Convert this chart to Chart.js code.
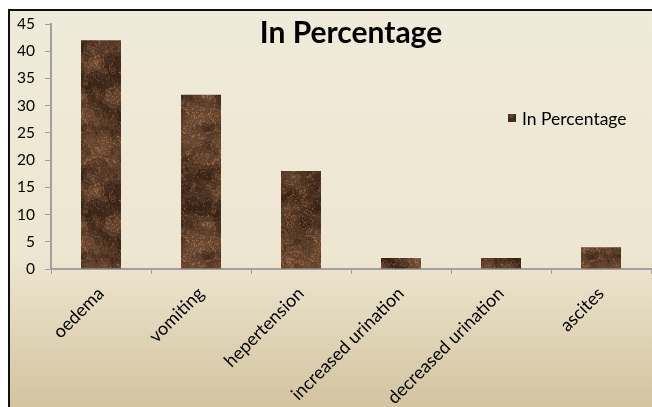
<!DOCTYPE html>
<html>
<head>
<meta charset="utf-8">
<script src="https://cdn.jsdelivr.net/npm/chart.js@4/dist/chart.umd.min.js"></script>
<style>
  html, body { margin: 0; padding: 0; background: #fff; }
  #wrap { width: 652px; height: 407px; position: relative; }
</style>
</head>
<body>
<div id="wrap"><canvas id="c" width="652" height="407"></canvas></div>
<script>
// Symptom frequencies
const categories = ['oedema', 'vomiting', 'hepertension', 'increased urination', 'decreased urination', 'ascites'];
const percentages = [42, 32, 18, 2, 2, 4];
const seriesName = 'In Percentage';
const chartTitle = 'In Percentage';
const yMin = 0, yMax = 45, yStep = 5;

const FONT = 'Lato, "Open Sans", sans-serif';

// Dark brown marble texture used as the bar fill (deterministic value-noise clouds)
function marblePattern() {
  const s = 128;
  const cv = document.createElement('canvas');
  cv.width = cv.height = s;
  const g = cv.getContext('2d');
  const img = g.createImageData(s, s);
  const hash = (x, y) => { const h = Math.sin(x * 127.1 + y * 311.7) * 43758.5453; return h - Math.floor(h); };
  const smooth = t => t * t * (3 - 2 * t);
  function noise(x, y, period) {
    const xi = Math.floor(x), yi = Math.floor(y);
    const xf = smooth(x - xi), yf = smooth(y - yi);
    const w = v => ((v % period) + period) % period;
    const a = hash(w(xi), w(yi)), b = hash(w(xi + 1), w(yi));
    const c = hash(w(xi), w(yi + 1)), d = hash(w(xi + 1), w(yi + 1));
    return (a + (b - a) * xf) + ((c + (d - c) * xf) - (a + (b - a) * xf)) * yf;
  }
  function fbm(x, y) {
    let v = 0, amp = 0.5, f = 1 / 16;
    for (let o = 0; o < 5; o++) {
      const period = Math.round(s * f);
      v += amp * noise(x * f, y * f, period);
      amp *= 0.5; f *= 2;
    }
    return v;
  }
  for (let y = 0; y < s; y++) {
    for (let x = 0; x < s; x++) {
      const n = fbm(x, y);
      const m = fbm(x + 37, y + 91);
      const vein = Math.pow(1 - Math.abs(Math.sin((n * 6 + m * 3) * Math.PI)), 5);
      let t = (n - 0.25) * 0.95 + vein * 0.45 + (hash(x + 0.5, y + 0.5) - 0.5) * 0.22;
      t = Math.min(1, Math.max(0, t));
      const i = (y * s + x) * 4;
      img.data[i]     = 55 + t * 120;
      img.data[i + 1] = 34 + t * 90;
      img.data[i + 2] = 22 + t * 64;
      img.data[i + 3] = 255;
    }
  }
  g.putImageData(img, 0, 0);
  return g.createPattern(cv, 'repeat');
}
const barFill = marblePattern();

// Cream parchment background with a black frame on the top and left edges
const backdrop = {
  id: 'backdrop',
  beforeDraw(chart) {
    const { ctx, width, height } = chart;
    ctx.save();
    ctx.fillStyle = '#ffffff';
    ctx.fillRect(0, 0, width, height);
    const grad = ctx.createLinearGradient(0, 10, 0, height);
    grad.addColorStop(0, '#f0eada');
    grad.addColorStop(0.62, '#ede6d1');
    grad.addColorStop(1, '#d3c49f');
    ctx.fillStyle = grad;
    ctx.fillRect(9, 10, width - 9, height - 10);
    ctx.fillStyle = '#111';
    ctx.fillRect(8, 9, width - 8, 2);
    ctx.fillRect(8, 9, 2, height - 9);
    ctx.restore();
  }
};

// Title and legend drawn over the plot area
const overlay = {
  id: 'overlay',
  afterDraw(chart) {
    const { ctx, chartArea } = chart;
    ctx.save();
    ctx.fillStyle = '#000';
    ctx.font = 'bold 30px ' + FONT;
    ctx.textAlign = 'center';
    ctx.textBaseline = 'middle';
    ctx.fillText(chartTitle, (chartArea.left + chartArea.right) / 2, 33);

    const ds = chart.data.datasets[0];
    const lx = chartArea.right - 143, ly = 118;
    ctx.fillStyle = ds.backgroundColor;
    ctx.fillRect(lx, ly - 4, 8, 8);
    ctx.fillStyle = '#000';
    ctx.font = '17.5px ' + FONT;
    ctx.textAlign = 'left';
    ctx.fillText(ds.label, lx + 14, ly + 1);
    ctx.restore();
  }
};

new Chart(document.getElementById('c'), {
  type: 'bar',
  data: {
    labels: categories,
    datasets: [{
      label: seriesName,
      data: percentages,
      backgroundColor: barFill,
      borderWidth: 0,
      barPercentage: 0.4,
      categoryPercentage: 1.0
    }]
  },
  options: {
    responsive: false,
    animation: false,
    devicePixelRatio: 1,
    layout: { padding: { top: 24, right: 1, left: 0, bottom: 0 } },
    plugins: {
      legend: { display: false },
      title: { display: false },
      tooltip: { enabled: false }
    },
    scales: {
      x: {
        afterFit(scale) { scale.height = 407 - 269; },
        grid: {
          display: true, drawOnChartArea: false, drawTicks: true,
          tickLength: 5, color: '#a0a0a0', lineWidth: 1, offset: true
        },
        border: { display: true, color: '#a0a0a0', width: 2 },
        ticks: {
          color: '#000', font: { family: FONT, size: 18 },
          minRotation: 45, maxRotation: 45, padding: 9, autoSkip: false
        }
      },
      y: {
        min: yMin, max: yMax,
        afterFit(scale) { scale.width = 51; },
        grid: {
          display: true, drawOnChartArea: false, drawTicks: true,
          tickLength: 6, color: '#a0a0a0', lineWidth: 1
        },
        border: { display: true, color: '#a0a0a0', width: 2 },
        ticks: {
          stepSize: yStep, color: '#000', padding: 10,
          font: { family: FONT, size: 15.5 }
        }
      }
    }
  },
  plugins: [backdrop, overlay]
});
</script>
</body>
</html>
